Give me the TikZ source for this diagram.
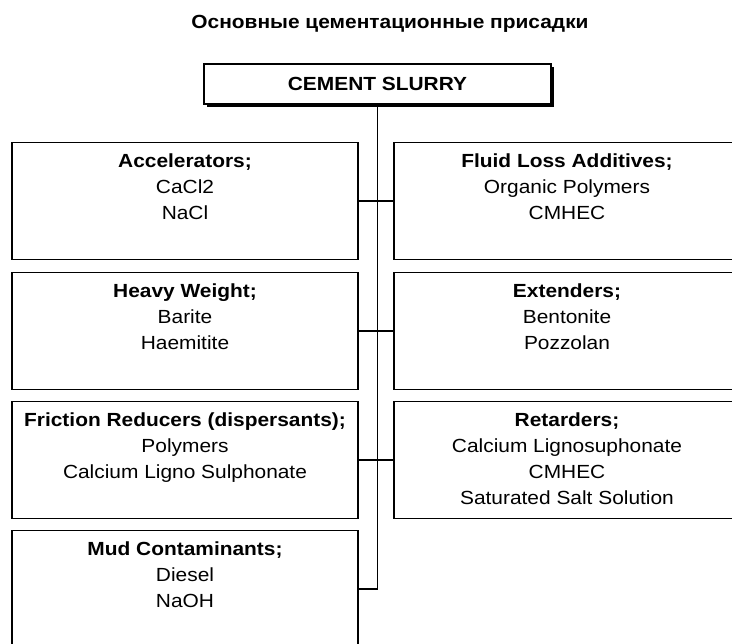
\documentclass[tikz,border=0pt]{standalone}
\usepackage{fontspec}
\setmainfont{Liberation Sans}[FakeStretch=1.1]
\usetikzlibrary{positioning, shadows}

\begin{document}
\begin{tikzpicture}[x=1pt, y=-1pt,
    every node/.style={font=\fontsize{19}{26}\selectfont},
    catbox/.style={draw, line width=1.2pt, minimum width=346pt, minimum height=117pt, inner sep=0pt},
    rootbox/.style={draw, line width=1.4pt, fill=white, minimum width=347pt, minimum height=40pt, font=\fontsize{19}{26}\selectfont\bfseries, drop shadow={shadow xshift=3pt, shadow yshift=-3pt, fill=black, opacity=1}},
    cattext/.style={anchor=north, align=center, inner sep=0pt},
    link/.style={line width=1.2pt}
]
\useasboundingbox (0,0) rectangle (732,644);

\node[font=\fontsize{19}{26}\selectfont\bfseries] (title) at (390, 24) {Основные цементационные присадки};
\node[rootbox] (root) at (377.5, 84) {CEMENT SLURRY};

% left column
\node[catbox] (acc)  at (185, 201) {};
\node[catbox] (heavy) at (185, 331) {};
\node[catbox] (fric) at (185, 460) {};
\node[catbox] (mud)  at (185, 589) {};

% right column
\node[catbox] (fla)  at (567, 201) {};
\node[catbox] (ext)  at (567, 331) {};
\node[catbox] (ret)  at (567, 460) {};

\node[cattext] (acct) at ([yshift=-12pt]acc.north) {\textbf{Accelerators;}\\ CaCl2\\ NaCl};
\node[cattext] (heavyt) at ([yshift=-12pt]heavy.north) {\textbf{Heavy Weight;}\\ Barite\\ Haemitite};
\node[cattext] (frict) at ([yshift=-12pt]fric.north) {\textbf{Friction Reducers (dispersants);}\\ Polymers\\ Calcium Ligno Sulphonate};
\node[cattext] (mudt) at ([yshift=-12pt]mud.north) {\textbf{Mud Contaminants;}\\ Diesel\\ NaOH};
\node[cattext] (flat) at ([yshift=-12pt]fla.north) {\textbf{Fluid Loss Additives;}\\ Organic Polymers\\ CMHEC};
\node[cattext] (extt) at ([yshift=-12pt]ext.north) {\textbf{Extenders;}\\ Bentonite\\ Pozzolan};
\node[cattext] (rett) at ([yshift=-12pt]ret.north) {\textbf{Retarders;}\\ Calcium Lignosuphonate\\ CMHEC\\ Saturated Salt Solution};

\draw[link] (mud.east) -| (root.south);
\draw[link] (acc.east) -- (fla.west);
\draw[link] (heavy.east) -- (ext.west);
\draw[link] (fric.east) -- (ret.west);
\end{tikzpicture}
\end{document}
